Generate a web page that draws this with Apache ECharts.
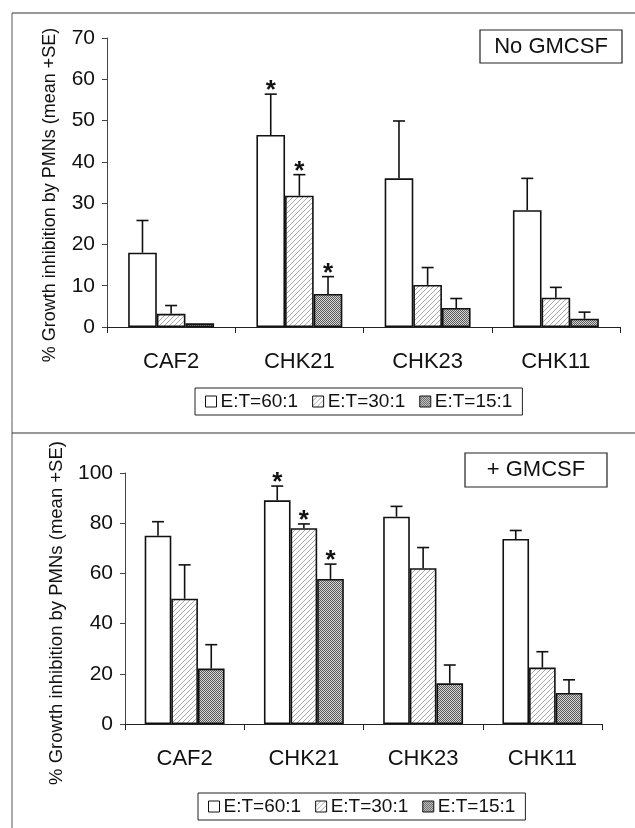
<!DOCTYPE html>
<html><head><meta charset="utf-8">
<script src="https://cdn.jsdelivr.net/npm/echarts@6/dist/echarts.min.js"></script>
<style>html,body{margin:0;padding:0;background:#fff}#c{width:635px;height:828px}</style>
</head><body><div id="c"></div>
<script>
// ---- data ----
const categories = ['CAF2', 'CHK21', 'CHK23', 'CHK11'];
const seriesNames = ['E:T=60:1', 'E:T=30:1', 'E:T=15:1'];
// Panel A: No GMCSF
const noG60 = [18, 46.5, 36, 28.3];
const noG60se = [7.8, 9.9, 13.9, 7.7];
const noG30 = [3.2, 31.8, 10.2, 7.1];
const noG30se = [2.0, 5.1, 4.2, 2.5];
const noG15 = [0.9, 8.0, 4.6, 2.0];
const noG15se = [0, 4.2, 2.3, 1.6];
const noGStars60 = [0, 1, 0, 0];
const noGStars30 = [0, 1, 0, 0];
const noGStars15 = [0, 1, 0, 0];
// Panel B: + GMCSF
const plusG60 = [75, 89.1, 82.6, 73.7];
const plusG60se = [5.6, 5.7, 4.1, 3.4];
const plusG30 = [49.9, 78.0, 62.1, 22.5];
const plusG30se = [13.5, 1.7, 8.2, 6.3];
const plusG15 = [22.1, 57.8, 16.2, 12.4];
const plusG15se = [9.5, 5.9, 7.3, 5.2];
const plusGStars60 = [0, 1, 0, 0];
const plusGStars30 = [0, 1, 0, 0];
const plusGStars15 = [0, 1, 0, 0];
const yTicksTop = {min: 0, max: 70, interval: 10};
const yTicksBottom = {min: 0, max: 100, interval: 20};
const yTitle = '% Growth inhibition by PMNs (mean +SE)';

// ---- patterns ----
function hatchCanvas() {
  const s = 5, c = document.createElement('canvas'); c.width = s; c.height = s;
  const g = c.getContext('2d');
  g.fillStyle = '#fff'; g.fillRect(0, 0, s, s);
  g.strokeStyle = '#909090'; g.lineWidth = 0.8;
  g.beginPath();
  g.moveTo(-1, s + 1); g.lineTo(s + 1, -1);
  g.moveTo(-1, 1); g.lineTo(1, -1);
  g.moveTo(s - 1, s + 1); g.lineTo(s + 1, s - 1);
  g.stroke();
  return c;
}
function denseCanvas() {
  const c = document.createElement('canvas'); c.width = 2; c.height = 2;
  const g = c.getContext('2d');
  g.fillStyle = '#d6d6d6'; g.fillRect(0, 0, 2, 2);
  g.fillStyle = '#5a5a5a'; g.fillRect(0, 0, 1, 1); g.fillRect(1, 1, 1, 1);
  return c;
}
const fills = ['#ffffff', {image: hatchCanvas(), repeat: 'repeat'}, {image: denseCanvas(), repeat: 'repeat'}];

const FONT = '"Liberation Sans", Arial, Helvetica, sans-serif';
const BAR_CAT_GAP = 0.33;

const panels = [
  {vals: [noG60, noG30, noG15], se: [noG60se, noG30se, noG15se], stars: [noGStars60, noGStars30, noGStars15]},
  {vals: [plusG60, plusG30, plusG15], se: [plusG60se, plusG30se, plusG15se], stars: [plusGStars60, plusGStars30, plusGStars15]}
];

const series = [];
panels.forEach((p, gi) => {
  p.vals.forEach((v, k) => {
    series.push({
      type: 'bar', name: seriesNames[k], xAxisIndex: gi, yAxisIndex: gi,
      data: v, barGap: '0%', barCategoryGap: (BAR_CAT_GAP * 100) + '%',
      itemStyle: {color: fills[k], borderColor: '#111', borderWidth: 1.6},
      emphasis: {disabled: true}, animation: false
    });
  });
  const errData = [];
  p.vals.forEach((v, k) => v.forEach((m, ci) => errData.push([ci, m, p.se[k][ci], k, p.stars[k][ci]])));
  series.push({
    type: 'custom', xAxisIndex: gi, yAxisIndex: gi, data: errData, z: 5, animation: false, silent: true,
    renderItem: function (params, api) {
      const ci = api.value(0), m = api.value(1), se = api.value(2), k = api.value(3), st = api.value(4);
      const band = api.size([1, 0])[0];
      const bw = band * (1 - BAR_CAT_GAP) / 3;
      const b = api.coord([ci, m]);
      const t = api.coord([ci, m + se]);
      const x = b[0] + (k - 1) * bw;
      const children = [];
      if (se > 0) {
        children.push({type: 'line', shape: {x1: x, y1: b[1], x2: x, y2: t[1]}, style: {stroke: '#111', lineWidth: 1.6}});
        children.push({type: 'line', shape: {x1: x - 6, y1: t[1], x2: x + 6, y2: t[1]}, style: {stroke: '#111', lineWidth: 1.6}});
      }
      if (st) {
        children.push({type: 'text', x: x, y: t[1] - 3, style: {text: '*', font: 'bold 26px ' + FONT, fill: '#111', textAlign: 'center', textVerticalAlign: 'middle'}});
      }
      return {type: 'group', children: children};
    }
  });
});

const grids = [
  {left: 107, right: 15, top: 38, bottom: 828 - 327},
  {left: 125, right: 33, top: 473, bottom: 828 - 724}
];
const yTicks = [yTicksTop, yTicksBottom];

const option = {
  animation: false,
  grid: grids,
  xAxis: grids.map((g, i) => ({
    type: 'category', gridIndex: i, data: categories,
    axisLine: {lineStyle: {color: '#222', width: 1.2}},
    axisTick: {show: true, inside: false, length: 6, lineStyle: {color: '#222'}},
    axisLabel: {fontFamily: FONT, fontSize: 22, color: '#111', margin: 24}
  })),
  yAxis: grids.map((g, i) => ({
    type: 'value', gridIndex: i, min: yTicks[i].min, max: yTicks[i].max, interval: yTicks[i].interval,
    splitLine: {show: false},
    axisLine: {show: true, lineStyle: {color: '#444', width: 1}},
    axisTick: {show: true, length: 5, lineStyle: {color: '#444'}},
    axisLabel: {fontFamily: FONT, fontSize: 21, color: '#111', margin: 12}
  })),
  legend: [
    {left: 195, top: 388, data: seriesNames, orient: 'horizontal', icon: 'rect', itemWidth: 11, itemHeight: 11, itemGap: 14,
     padding: [4, 10], borderColor: '#222', borderWidth: 1, selectedMode: false,
     itemStyle: {borderColor: '#111', borderWidth: 1},
     textStyle: {fontFamily: FONT, fontSize: 19, color: '#111', padding: [0, 0, 0, -1]}},
    {left: 198, top: 793, data: seriesNames, orient: 'horizontal', icon: 'rect', itemWidth: 11, itemHeight: 11, itemGap: 14,
     padding: [4, 10], borderColor: '#222', borderWidth: 1, selectedMode: false,
     itemStyle: {borderColor: '#111', borderWidth: 1},
     textStyle: {fontFamily: FONT, fontSize: 19, color: '#111', padding: [0, 0, 0, -1]}}
  ],
  graphic: [
    // panel frames
    {type: 'line', shape: {x1: 12, y1: 13, x2: 635, y2: 13}, style: {stroke: '#333', lineWidth: 1.2}, silent: true},
    {type: 'line', shape: {x1: 12, y1: 13, x2: 12, y2: 828}, style: {stroke: '#555', lineWidth: 1}, silent: true},
    {type: 'line', shape: {x1: 12, y1: 433, x2: 635, y2: 433}, style: {stroke: '#333', lineWidth: 1.2}, silent: true},
    // y titles
    {type: 'text', x: 50, y: 195, rotation: Math.PI / 2, style: {text: yTitle, font: '18px ' + FONT, fill: '#111', textAlign: 'center', textVerticalAlign: 'middle'}, silent: true},
    {type: 'text', x: 57, y: 613, rotation: Math.PI / 2, style: {text: yTitle, font: '18.5px ' + FONT, fill: '#111', textAlign: 'center', textVerticalAlign: 'middle'}, silent: true},
    // panel label boxes
    {type: 'rect', shape: {x: 480, y: 30, width: 142, height: 33}, style: {fill: '#fff', stroke: '#222', lineWidth: 1.2}, silent: true},
    {type: 'text', x: 551, y: 47, style: {text: 'No GMCSF', font: '22px ' + FONT, fill: '#111', textAlign: 'center', textVerticalAlign: 'middle'}, silent: true},
    {type: 'rect', shape: {x: 465, y: 453, width: 142, height: 34}, style: {fill: '#fff', stroke: '#222', lineWidth: 1.2}, silent: true},
    {type: 'text', x: 536, y: 470, style: {text: '+ GMCSF', font: '22px ' + FONT, fill: '#111', textAlign: 'center', textVerticalAlign: 'middle'}, silent: true}
  ],
  series: series
};
const chart = echarts.init(document.getElementById('c'), null, {renderer: 'canvas'});
chart.setOption(option);
</script>
</body></html>
